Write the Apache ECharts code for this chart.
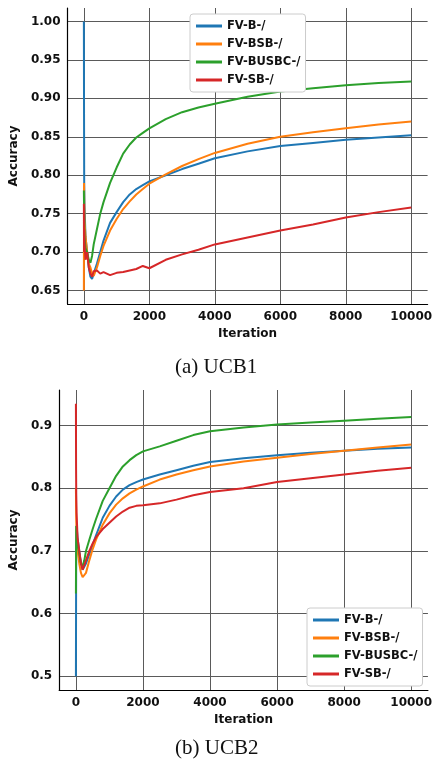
<!DOCTYPE html>
<html>
<head>
<meta charset="utf-8">
<script src="https://cdn.jsdelivr.net/npm/echarts@6/dist/echarts.min.js"></script>
<style>
  html, body { margin: 0; padding: 0; background: #fff; }
  #chart { width: 435px; height: 766px; }
</style>
</head>
<body>
<div id="chart"></div>
<script>
// 迭代次数（两幅图共用）
var iters = [0, 5, 10, 20, 50, 100, 150, 200, 250, 300, 400, 500, 600, 800, 1000, 1200, 1400, 1600, 1800, 2000, 2500, 3000, 3500, 4000, 5000, 6000, 7000, 8000, 9000, 10000];
var seriesNames = ['FV-B-/', 'FV-BSB-/', 'FV-BUSBC-/', 'FV-SB-/'];
var colors = ['#1f77b4', '#ff7f0e', '#2ca02c', '#d62728'];

// (a) UCB1
var ucb1B = [1.00, 0.88, 0.79, 0.76, 0.72, 0.70, 0.68, 0.668, 0.665, 0.672, 0.685, 0.70, 0.715, 0.738, 0.752, 0.765, 0.775, 0.782, 0.787, 0.792, 0.800, 0.808, 0.815, 0.822, 0.831, 0.838, 0.842, 0.846, 0.849, 0.852];
var ucb1BSB = [0.65, 0.79, 0.77, 0.74, 0.72, 0.70, 0.685, 0.68, 0.672, 0.669, 0.68, 0.695, 0.708, 0.728, 0.743, 0.756, 0.766, 0.775, 0.782, 0.789, 0.801, 0.812, 0.821, 0.829, 0.841, 0.850, 0.856, 0.861, 0.866, 0.870];
var ucb1BUSBC = [0.78, 0.76, 0.74, 0.72, 0.705, 0.70, 0.69, 0.686, 0.695, 0.71, 0.73, 0.75, 0.765, 0.79, 0.81, 0.828, 0.84, 0.849, 0.855, 0.861, 0.873, 0.882, 0.888, 0.893, 0.902, 0.909, 0.913, 0.917, 0.920, 0.922];
var ucb1SB = [0.763, 0.70, 0.73, 0.71, 0.69, 0.70, 0.68, 0.672, 0.668, 0.675, 0.676, 0.672, 0.674, 0.670, 0.673, 0.674, 0.676, 0.678, 0.682, 0.679, 0.690, 0.697, 0.703, 0.710, 0.719, 0.728, 0.736, 0.745, 0.752, 0.758];

// (b) UCB2
var ucb2B = [0.50, 0.63, 0.73, 0.74, 0.72, 0.70, 0.68, 0.670, 0.672, 0.68, 0.695, 0.71, 0.725, 0.753, 0.772, 0.787, 0.798, 0.805, 0.81, 0.814, 0.822, 0.829, 0.836, 0.842, 0.848, 0.853, 0.857, 0.860, 0.863, 0.865];
var ucb2BSB = [0.80, 0.77, 0.75, 0.72, 0.70, 0.68, 0.665, 0.658, 0.656, 0.665, 0.685, 0.703, 0.718, 0.742, 0.76, 0.774, 0.784, 0.792, 0.798, 0.803, 0.814, 0.822, 0.829, 0.835, 0.843, 0.849, 0.855, 0.860, 0.865, 0.870];
var ucb2BUSBC = [0.632, 0.70, 0.74, 0.73, 0.71, 0.695, 0.68, 0.676, 0.685, 0.70, 0.718, 0.735, 0.751, 0.78, 0.80, 0.82, 0.835, 0.845, 0.853, 0.859, 0.867, 0.876, 0.885, 0.891, 0.897, 0.902, 0.905, 0.908, 0.911, 0.914];
var ucb2SB = [0.935, 0.83, 0.79, 0.76, 0.72, 0.70, 0.68, 0.670, 0.672, 0.685, 0.70, 0.712, 0.722, 0.735, 0.745, 0.755, 0.763, 0.769, 0.772, 0.773, 0.776, 0.782, 0.789, 0.794, 0.80, 0.810, 0.816, 0.822, 0.828, 0.833];

var xTicks = [0, 2000, 4000, 6000, 8000, 10000];
var yTicks1 = [0.65, 0.70, 0.75, 0.80, 0.85, 0.90, 0.95, 1.00];
var yTicks2 = [0.5, 0.6, 0.7, 0.8, 0.9];

function pairs(vals) {
  return iters.map(function (x, i) { return [x, vals[i]]; });
}

var font = 'DejaVu Sans';
var txt = { color: '#111', fontSize: 12, fontWeight: 'bold', fontFamily: font };
var gridLine = { show: true, lineStyle: { color: '#5a5a5a', width: 1 } };

function xAxisCfg(idx, gap) {
  return {
    type: 'value', gridIndex: idx, min: -500, max: 10500,
    name: 'Iteration', nameLocation: 'middle', nameGap: gap,
    nameTextStyle: txt,
    axisLine: { onZero: false, lineStyle: { color: '#000', width: 1.2 } },
    axisTick: { show: false, customValues: xTicks },
    axisLabel: Object.assign({
      customValues: xTicks, margin: 7,
      formatter: function (v) { return String(v); }
    }, txt),
    splitLine: gridLine
  };
}

function yAxisCfg(idx, min, max, ticks, digits, gap) {
  return {
    type: 'value', gridIndex: idx, min: min, max: max,
    name: 'Accuracy', nameLocation: 'middle', nameGap: gap,
    nameTextStyle: txt,
    axisLine: { show: true, onZero: false, lineStyle: { color: '#000', width: 1.2 } },
    axisTick: { show: false, customValues: ticks },
    axisLabel: Object.assign({
      customValues: ticks, margin: 7,
      formatter: function (v) { return v.toFixed(digits); }
    }, txt),
    splitLine: gridLine
  };
}

var groups = [
  [ucb1B, ucb1BSB, ucb1BUSBC, ucb1SB],
  [ucb2B, ucb2BSB, ucb2BUSBC, ucb2SB]
];

var series = [];
groups.forEach(function (g, gi) {
  g.forEach(function (vals, si) {
    series.push({
      name: seriesNames[si], type: 'line',
      xAxisIndex: gi, yAxisIndex: gi,
      symbol: 'none', smooth: false,
      lineStyle: { color: colors[si], width: 2 },
      itemStyle: { color: colors[si] },
      data: pairs(vals)
    });
  });
});

function legendCfg(pos) {
  return Object.assign({
    orient: 'vertical',
    data: seriesNames,
    icon: 'rect', itemWidth: 26, itemHeight: 3, itemGap: 6,
    textStyle: { color: '#111', fontSize: 11.5, fontWeight: 'bold', fontFamily: font },
    backgroundColor: '#fff', borderColor: '#ccc', borderWidth: 1, borderRadius: 3,
    padding: [6, 5, 6, 6]
  }, pos);
}

var myChart = echarts.init(document.getElementById('chart'));
var option = {
  animation: false,
  backgroundColor: '#fff',
  color: colors,
  grid: [
    { left: 65, top: 8, width: 364, height: 296 },
    { left: 58, top: 390, width: 370, height: 300 }
  ],
  xAxis: [xAxisCfg(0, 24), xAxisCfg(1, 24)],
  yAxis: [yAxisCfg(0, 0.6325, 1.0175, yTicks1, 2, 40), yAxisCfg(1, 0.478, 0.957, yTicks2, 1, 31)],
  legend: [
    legendCfg({ left: 190, top: 14 }),
    legendCfg({ left: 307, top: 608 })
  ],
  graphic: [
    { type: 'text', left: 175, top: 357, style: { text: '(a) UCB1', font: '21px "Liberation Serif"', fill: '#111' } },
    { type: 'text', left: 175, top: 738, style: { text: '(b) UCB2', font: '21px "Liberation Serif"', fill: '#111' } }
  ],
  series: series
};
option && myChart.setOption(option);
</script>
</body>
</html>
